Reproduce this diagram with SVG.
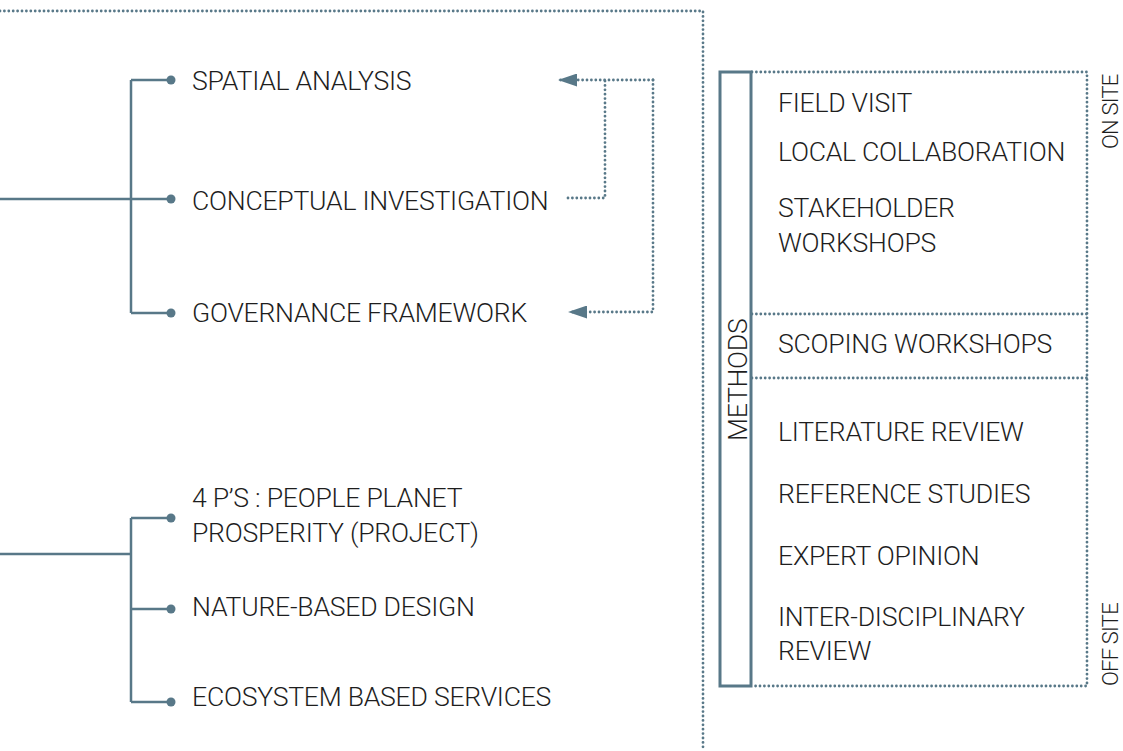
<svg xmlns="http://www.w3.org/2000/svg" width="1123" height="751" viewBox="0 0 1123 751">
<defs>
<style>
.t{font-family:Roboto,"Liberation Sans",sans-serif;font-weight:300;font-size:26.6px;letter-spacing:-0.25px;fill:#1e1e1e}
.ts{font-family:Roboto,"Liberation Sans",sans-serif;font-weight:300;font-size:22px;letter-spacing:-0.8px;fill:#1e1e1e}
.solid{fill:none;stroke:#587888;stroke-width:2.5}
.dot{fill:none;stroke:#587888;stroke-width:2.8;stroke-linecap:round;stroke-dasharray:0 4.4}
.bullet{fill:#587888}
</style>
<marker id="arr" markerWidth="19" markerHeight="13" refX="18" refY="6.5" orient="auto" markerUnits="userSpaceOnUse">
<path d="M0,0 L19,6.5 L0,13 Z" fill="#587888"/>
</marker>
</defs>
<rect width="1123" height="751" fill="#ffffff"/>
<g id="frame">
<path class="dot" d="M0,11 H703 V751"/>
</g>
<g id="connectors">
<path class="solid" d="M0,199 H131 M131,80 V313 M131,80 H170 M131,199 H170 M131,313 H170"/>
<path class="solid" d="M0,554 H131 M131,518 V702 M131,518 H170 M131,609 H170 M131,702 H170"/>
<circle class="bullet" cx="171" cy="80" r="4.5"/>
<circle class="bullet" cx="171" cy="199" r="4.5"/>
<circle class="bullet" cx="171" cy="313" r="4.5"/>
<circle class="bullet" cx="171" cy="518" r="4.5"/>
<circle class="bullet" cx="171" cy="609" r="4.5"/>
<circle class="bullet" cx="171" cy="702" r="4.5"/>
<path class="dot" d="M568,198 H605 V80"/>
<path class="dot" d="M653,80 H559" marker-end="url(#arr)"/>
<path class="dot" d="M653,80 V312 H569" marker-end="url(#arr)"/>
</g>
<g id="analysis-nodes">
<text class="t" x="192" y="90">SPATIAL ANALYSIS</text>
<text class="t" x="192" y="210">CONCEPTUAL INVESTIGATION</text>
<text class="t" x="192" y="322">GOVERNANCE FRAMEWORK</text>
</g>
<g id="design-nodes">
<text class="t" x="192" y="507">4 P’S : PEOPLE PLANET</text>
<text class="t" x="192" y="542">PROSPERITY (PROJECT)</text>
<text class="t" x="192" y="616">NATURE-BASED DESIGN</text>
<text class="t" x="192" y="706">ECOSYSTEM BASED SERVICES</text>
</g>
<g id="methods">
<rect x="720" y="72" width="31" height="614" fill="none" stroke="#587888" stroke-width="3"/>
<path class="dot" d="M752,72 H1087 V686 H752 M752,314 H1087 M752,378 H1087"/>
<text class="t" transform="translate(747,441) rotate(-90)">METHODS</text>
<text class="ts" transform="translate(1118,149) rotate(-90)">ON SITE</text>
<text class="ts" transform="translate(1118,686) rotate(-90)">OFF SITE</text>
<text class="t" x="778" y="112">FIELD VISIT</text>
<text class="t" x="778" y="161">LOCAL COLLABORATION</text>
<text class="t" x="778" y="217">STAKEHOLDER</text>
<text class="t" x="778" y="252">WORKSHOPS</text>
<text class="t" x="778" y="353">SCOPING WORKSHOPS</text>
<text class="t" x="778" y="441">LITERATURE REVIEW</text>
<text class="t" x="778" y="503">REFERENCE STUDIES</text>
<text class="t" x="778" y="565">EXPERT OPINION</text>
<text class="t" x="778" y="626">INTER-DISCIPLINARY</text>
<text class="t" x="778" y="660">REVIEW</text>
</g>
</svg>
